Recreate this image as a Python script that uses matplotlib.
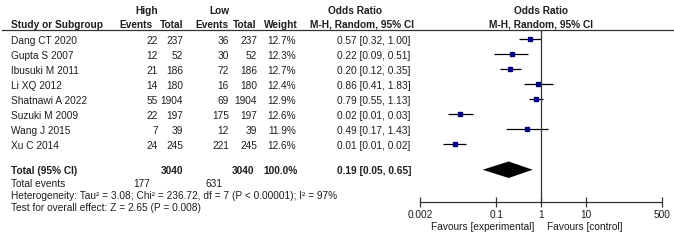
import matplotlib
import matplotlib.pyplot as plt
import numpy as np
from matplotlib.lines import Line2D

matplotlib.use('Agg')

studies = ['Dang CT 2020', 'Gupta S 2007', 'Ibusuki M 2011', 'Li XQ 2012',
           'Shatnawi A 2022', 'Suzuki M 2009', 'Wang J 2015', 'Xu C 2014']
high_events = [22, 12, 21, 14, 55, 22, 7, 24]
high_total = [237, 52, 186, 180, 1904, 197, 39, 245]
low_events = [36, 30, 72, 16, 69, 175, 12, 221]
low_total = [237, 52, 186, 180, 1904, 197, 39, 245]
weights = [12.7, 12.3, 12.7, 12.4, 12.9, 12.6, 11.9, 12.6]
or_labels = ['0.57 [0.32, 1.00]', '0.22 [0.09, 0.51]', '0.20 [0.12, 0.35]', '0.86 [0.41, 1.83]',
             '0.79 [0.55, 1.13]', '0.02 [0.01, 0.03]', '0.49 [0.17, 1.43]', '0.01 [0.01, 0.02]']
or_point = [0.57, 0.22, 0.20, 0.86, 0.79, 0.016, 0.49, 0.012]
or_low = [0.32, 0.09, 0.12, 0.41, 0.55, 0.0084, 0.17, 0.0065]
or_high = [1.00, 0.51, 0.35, 1.83, 1.13, 0.030, 1.43, 0.021]
pooled_est, pooled_low, pooled_high = 0.19, 0.05, 0.65
total_high, total_low = 3040, 3040
events_high, events_low = 177, 631
axis_ticks = [0.002, 0.1, 1, 10, 500]
axis_tick_labels = ['0.002', '0.1', '1', '10', '500']

W, H = 674, 240
FS = 7.3
TXT = '#1e1e1e'
plt.rcParams['font.family'] = ['Liberation Sans', 'DejaVu Sans']

fig = plt.figure(figsize=(W / 100, H / 100), dpi=100)


def put(x, y, s, ha='left', bold=False):
    fig.text(x / W, 1 - y / H, s, ha=ha, va='center', fontsize=FS, color=TXT,
             fontweight='bold' if bold else 'normal')


# header
put(147, 11, 'High', ha='center', bold=True)
put(219, 11, 'Low', ha='center', bold=True)
put(355, 11, 'Odds Ratio', ha='center', bold=True)
put(541, 11, 'Odds Ratio', ha='center', bold=True)
put(11, 24.5, 'Study or Subgroup', bold=True)
put(136, 24.5, 'Events', ha='center', bold=True)
put(171.5, 24.5, 'Total', ha='center', bold=True)
put(212, 24.5, 'Events', ha='center', bold=True)
put(245, 24.5, 'Total', ha='center', bold=True)
put(280.5, 24.5, 'Weight', ha='center', bold=True)
put(362, 24.5, 'M-H, Random, 95% CI', ha='center', bold=True)
put(541, 24.5, 'M-H, Random, 95% CI', ha='center', bold=True)
fig.add_artist(Line2D([2 / W, 673 / W], [1 - 29.5 / H, 1 - 29.5 / H], color='#333333', lw=0.9))

# study rows
y0, step = 38.5, 15.0
for k, name in enumerate(studies):
    ty = y0 + step * k + 2.5
    put(11, ty, name)
    put(158, ty, str(high_events[k]), ha='right')
    put(183, ty, str(high_total[k]), ha='right')
    put(229, ty, str(low_events[k]), ha='right')
    put(257, ty, str(low_total[k]), ha='right')
    put(296, ty, f'{weights[k]:.1f}%', ha='right')
    put(337, ty, or_labels[k])

# totals
put(11, 171, 'Total (95% CI)', bold=True)
put(183, 171, str(total_high), ha='right', bold=True)
put(254, 171, str(total_low), ha='right', bold=True)
put(298, 171, '100.0%', ha='right', bold=True)
put(337, 171, f'{pooled_est:.2f} [{pooled_low:.2f}, {pooled_high:.2f}]', bold=True)
put(11, 184, 'Total events')
put(150, 184, str(events_high), ha='right')
put(223, 184, str(events_low), ha='right')
put(11, 196, 'Heterogeneity: Tau² = 3.08; Chi² = 236.72, df = 7 (P < 0.00001); I² = 97%')
put(11, 208, 'Test for overall effect: Z = 2.65 (P = 0.008)')

# forest panel
ax_top, ax_bot = 29.5, 201.5
ax = fig.add_axes([420 / W, 1 - ax_bot / H, 242 / W, (ax_bot - ax_top) / H])
ax.set_xscale('log')
ax.set_xlim(0.002, 500)
ax.set_ylim((ax_bot - y0) / step, (ax_top - y0) / step)
ax.patch.set_alpha(0)
rows = np.arange(len(studies))
ax.hlines(rows, or_low, or_high, color='black', lw=0.9)
for k in rows:
    ax.plot(or_point[k], k, marker='s', ms=2.5 * np.sqrt(weights[k] / 12.5),
            color='#000080', mec='#000080', ls='none')
pr = 8.75
dh = 0.55
ax.fill([pooled_low, pooled_est, pooled_high, pooled_est], [pr, pr - dh, pr, pr + dh], color='black', lw=0)
ax.axvline(1, color='#333333', lw=0.9)

for side in ['top', 'left', 'right']:
    ax.spines[side].set_visible(False)
ax.spines['bottom'].set_color('#333333')
ax.spines['bottom'].set_linewidth(0.9)
ax.set_yticks([])
ax.set_xticks(axis_ticks)
ax.set_xticklabels(axis_tick_labels)
ax.minorticks_off()
ax.tick_params(axis='x', direction='inout', length=7, width=0.9, color='#333333',
               labelsize=FS, labelcolor=TXT, pad=2.5)

put(534, 227, 'Favours [experimental]', ha='right')
put(547, 227, 'Favours [control]')

fig.savefig('out.png', dpi=100)
